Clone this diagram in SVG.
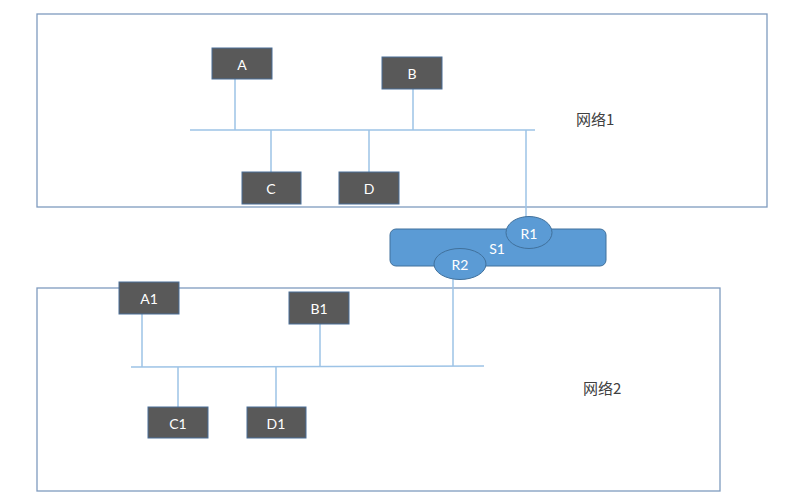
<svg xmlns="http://www.w3.org/2000/svg" width="800" height="494" viewBox="0 0 800 494">
<style>
.net{fill:#ffffff;stroke:#7f9bbf;stroke-width:1.3}
.node{fill:#595959;stroke:#4a6f98;stroke-width:1}
.lbl{font-family:"Lato","Liberation Sans",sans-serif;font-size:14px;fill:#ffffff;text-anchor:middle;dominant-baseline:central}
.wire{stroke:#9dc3e6;stroke-width:1.5;fill:none}
.cn{font-family:"Noto Sans CJK SC","Noto Sans",sans-serif;font-size:15px;fill:#404040}
.sw{fill:#5b9bd5;stroke:#41719c;stroke-width:1}
</style>
<rect width="800" height="494" fill="#ffffff"/>
<g id="network1"><rect class="net" x="37" y="14" width="730" height="193"/><text class="cn" x="576" y="125">网络1</text></g>
<g id="network2"><rect class="net" x="37" y="288" width="683" height="203"/><text class="cn" x="583" y="394">网络2</text></g>
<g id="connectors">
<line class="wire" x1="190" y1="130" x2="535" y2="130"/>
<line class="wire" x1="235" y1="79" x2="235" y2="130"/>
<line class="wire" x1="413" y1="89" x2="413" y2="130"/>
<line class="wire" x1="271" y1="130" x2="271" y2="172"/>
<line class="wire" x1="369" y1="130" x2="369" y2="172"/>
<line class="wire" x1="526" y1="130" x2="526" y2="217"/>
<line class="wire" x1="131" y1="367" x2="484" y2="366"/>
<line class="wire" x1="142" y1="314" x2="142" y2="367"/>
<line class="wire" x1="320" y1="324" x2="320" y2="366"/>
<line class="wire" x1="178" y1="367" x2="178" y2="407"/>
<line class="wire" x1="276" y1="367" x2="276" y2="407"/>
<line class="wire" x1="453" y1="279" x2="453" y2="366"/>
</g>
<g id="S1"><rect class="sw" x="390" y="229" width="216" height="37" rx="6"/><text class="lbl" x="497" y="248">S1</text></g>
<g id="R1"><ellipse class="sw" cx="529" cy="232.5" rx="23" ry="16"/><text class="lbl" x="529" y="233">R1</text></g>
<g id="R2"><ellipse class="sw" cx="460" cy="264" rx="26" ry="15.5"/><text class="lbl" x="460" y="264">R2</text></g>
<g id="A"><rect class="node" x="212" y="48" width="60" height="31"/><text class="lbl" x="242" y="64">A</text></g>
<g id="B"><rect class="node" x="382" y="57" width="60" height="32"/><text class="lbl" x="412" y="73">B</text></g>
<g id="C"><rect class="node" x="242" y="172" width="59" height="32"/><text class="lbl" x="271" y="188">C</text></g>
<g id="D"><rect class="node" x="339" y="172" width="60" height="32"/><text class="lbl" x="369" y="188">D</text></g>
<g id="A1"><rect class="node" x="119" y="282" width="60" height="32"/><text class="lbl" x="149" y="298">A1</text></g>
<g id="B1"><rect class="node" x="289" y="292" width="60" height="32"/><text class="lbl" x="319" y="308">B1</text></g>
<g id="C1"><rect class="node" x="148" y="407" width="60" height="31"/><text class="lbl" x="178" y="423">C1</text></g>
<g id="D1"><rect class="node" x="247" y="407" width="59" height="31"/><text class="lbl" x="276" y="423">D1</text></g>
</svg>
